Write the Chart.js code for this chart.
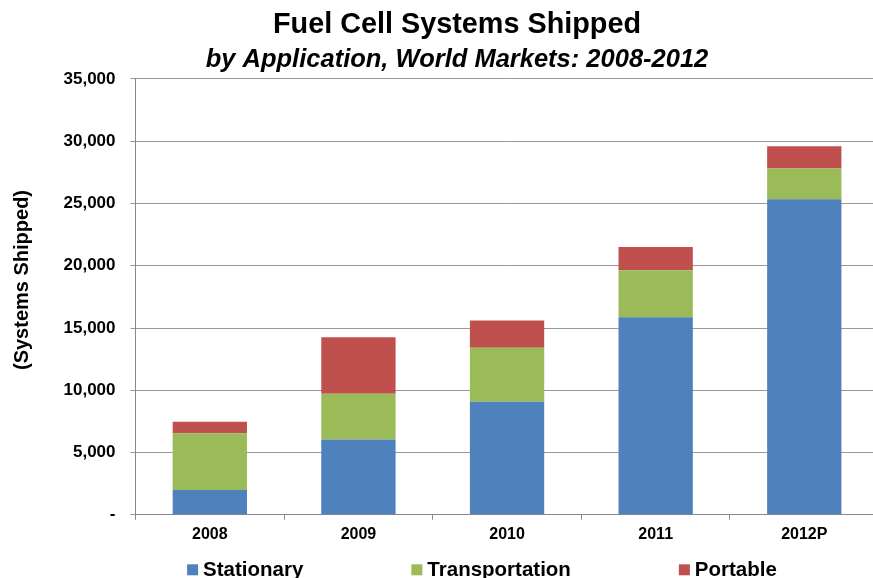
<!DOCTYPE html>
<html>
<head>
<meta charset="utf-8">
<title>Fuel Cell Systems Shipped</title>
<script src="https://cdn.jsdelivr.net/npm/chart.js@4.4.1/dist/chart.umd.min.js"></script>
<style>
  html, body { margin: 0; padding: 0; background: #fff; overflow: hidden; }
  #wrap { position: relative; width: 900px; height: 578px; }
</style>
</head>
<body>
<div id="wrap"><canvas id="chart" width="900" height="578"></canvas></div>
<script>
const FONT = "'Liberation Sans', Arial, Helvetica, sans-serif";

// Shipments per year, by application
const years = ['2008', '2009', '2010', '2011', '2012P'];
const stationary = [2000, 6050, 9070, 15870, 25340];
const transportation = [4540, 3680, 4340, 3760, 2470];
const portable = [940, 4530, 2190, 1870, 1790];

const seriesNames = ['Stationary', 'Transportation', 'Portable'];
const seriesColors = ['#4F81BD', '#9BBB59', '#C0504D'];

const yMax = 35000;
const yStep = 5000;

const titleText = 'Fuel Cell Systems Shipped';
const subtitleText = 'by Application, World Markets: 2008-2012';
const yTitleText = '(Systems Shipped)';

// Draws the rotated value-axis caption and the spaced legend row along the bottom
const sideText = {
  id: 'sideText',
  afterDraw(chart, args, o) {
    const ctx = chart.ctx;
    ctx.save();
    ctx.font = `bold ${o.legendSize}px ${FONT}`;
    ctx.textAlign = 'left';
    ctx.textBaseline = 'alphabetic';
    const items = chart.data.datasets.map(ds => ({
      text: ds.label,
      color: ds.backgroundColor,
      w: o.box + o.textGap + ctx.measureText(ds.label).width
    }));
    const total = items.reduce((s, it) => s + it.w, 0) + o.itemGap * (items.length - 1);
    let x = o.legendCenterX - total / 2;
    for (const it of items) {
      ctx.fillStyle = it.color;
      ctx.fillRect(x, o.legendBaseline - o.box - 0.4, o.box, o.box);
      ctx.fillStyle = '#000';
      ctx.fillText(it.text, x + o.box + o.textGap, o.legendBaseline);
      x += it.w + o.itemGap;
    }
    ctx.translate(o.yTitleX, o.yTitleY);
    ctx.rotate(-Math.PI / 2);
    ctx.font = `bold ${o.yTitleSize}px ${FONT}`;
    ctx.textAlign = 'center';
    ctx.textBaseline = 'middle';
    ctx.fillStyle = '#000';
    ctx.fillText(yTitleText, 0, 0);
    ctx.restore();
  }
};

const datasets = [stationary, transportation, portable].map((vals, i) => ({
  label: seriesNames[i],
  data: vals,
  backgroundColor: seriesColors[i],
  borderWidth: 0,
  categoryPercentage: 1.0,
  barPercentage: 0.5
}));

new Chart(document.getElementById('chart'), {
  type: 'bar',
  data: { labels: years, datasets },
  plugins: [sideText],
  options: {
    responsive: false,
    devicePixelRatio: 1,
    animation: false,
    layout: { padding: { left: 35.4, right: 21.4, top: 0, bottom: 29 } },
    plugins: {
      legend: { display: false },
      tooltip: { enabled: false },
      title: {
        display: true,
        text: titleText,
        color: '#000',
        font: { family: FONT, size: 28.8, weight: 'bold' },
        padding: { top: 7.3, bottom: 0 }
      },
      subtitle: {
        display: true,
        text: subtitleText,
        color: '#000',
        font: { family: FONT, size: 25.5, weight: 'bold', style: 'italic' },
        padding: { top: 2.8, bottom: 3.7 }
      },
      sideText: {
        legendSize: 20.5,
        box: 11,
        textGap: 5,
        itemGap: 108,
        legendCenterX: 482,
        legendBaseline: 575.7,
        yTitleSize: 20,
        yTitleX: 22.5,
        yTitleY: 280
      }
    },
    scales: {
      x: {
        stacked: true,
        grid: { drawOnChartArea: false, drawTicks: true, tickLength: 5, color: '#878787' },
        border: { color: '#878787', width: 1 },
        ticks: { color: '#000', padding: 5, font: { family: FONT, size: 16, weight: 'bold' } }
      },
      y: {
        stacked: true,
        min: 0,
        max: yMax,
        afterFit(scale) { scale.width = 100.1; },
        grid: { color: '#999999', tickLength: 5, lineWidth: 1 },
        border: { color: '#878787', width: 1 },
        ticks: {
          stepSize: yStep,
          color: '#000',
          padding: 15,
          font: { family: FONT, size: 17, weight: 'bold' },
          callback: v => (v === 0 ? '-' : v.toLocaleString('en-US'))
        }
      }
    }
  }
});
</script>
</body>
</html>
